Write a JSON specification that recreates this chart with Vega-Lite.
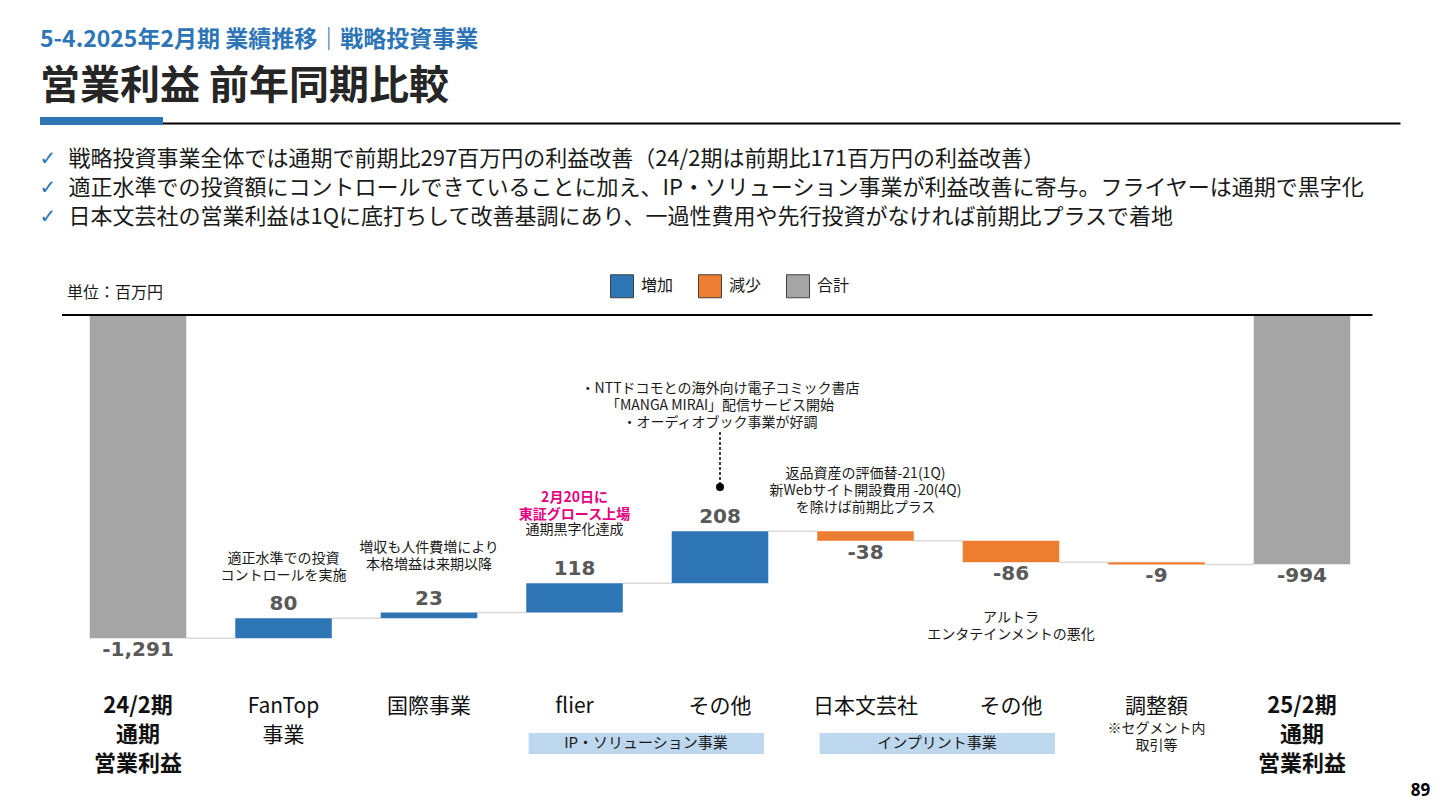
{
  "$schema": "https://vega.github.io/schema/vega-lite/v6.json",
  "width": 1360,
  "height": 365,
  "autosize": {"type": "none"},
  "padding": {"left": 40, "top": 316, "right": 40, "bottom": 129},
  "background": "white",
  "config": {"view": {"stroke": null}, "font": "Noto Sans CJK JP"},
  "title": {
    "text": "5-4.2025年2月期 業績推移｜戦略投資事業",
    "subtitle": "営業利益 前年同期比較",
    "anchor": "start",
    "frame": "group",
    "offset": 10,
    "color": "#2E75B6",
    "font": "Noto Sans CJK JP",
    "fontSize": 23,
    "fontWeight": "bold",
    "subtitleColor": "#262626",
    "subtitleFont": "Noto Sans CJK JP",
    "subtitleFontSize": 40,
    "subtitleFontWeight": "bold",
    "subtitlePadding": 15
  },
  "datasets": {
    "bars": [
      {"category": "24/2期|通期|営業利益", "kind": "合計", "value": -1291, "start": 0, "end": -1291, "label": "-1,291", "next": "FanTop|事業"},
      {"category": "FanTop|事業", "kind": "増加", "value": 80, "start": -1291, "end": -1211, "label": "80", "next": "国際事業"},
      {"category": "国際事業", "kind": "増加", "value": 23, "start": -1211, "end": -1188, "label": "23", "next": "flier"},
      {"category": "flier", "kind": "増加", "value": 118, "start": -1188, "end": -1070, "label": "118", "next": "その他"},
      {"category": "その他", "kind": "増加", "value": 208, "start": -1070, "end": -862, "label": "208", "next": "日本文芸社"},
      {"category": "日本文芸社", "kind": "減少", "value": -38, "start": -862, "end": -900, "label": "-38", "next": "その他#2"},
      {"category": "その他#2", "kind": "減少", "value": -86, "start": -900, "end": -986, "label": "-86", "next": "調整額"},
      {"category": "調整額", "kind": "減少", "value": -9, "start": -986, "end": -995, "label": "-9", "next": "25/2期|通期|営業利益"},
      {"category": "25/2期|通期|営業利益", "kind": "合計", "value": -994, "start": 0, "end": -994, "label": "-994", "next": null}
    ],
    "groups": [
      {"name": "IP・ソリューション事業", "from": "flier", "to": "その他"},
      {"name": "インプリント事業", "from": "日本文芸社", "to": "その他#2"}
    ]
  },
  "layer": [
    {
      "data": {"values": [{}]},
      "mark": {"type": "rect", "color": "#2E75B6"},
      "encoding": {
        "x": {"datum": "24/2期|通期|営業利益", "type": "nominal", "bandPosition": -0.5155, "axis": null},
        "x2": {"datum": "24/2期|通期|営業利益", "bandPosition": 0.759},
        "y": {"datum": 797, "type": "quantitative", "axis": null},
        "y2": {"datum": 765}
      }
    },
    {
      "data": {"values": [{}]},
      "mark": {"type": "rule", "color": "#000000", "strokeWidth": 2},
      "encoding": {
        "x": {"datum": "24/2期|通期|営業利益", "type": "nominal", "bandPosition": -0.2876, "axis": null},
        "x2": {"datum": "25/2期|通期|営業利益", "bandPosition": 1.23},
        "y": {"datum": 4, "type": "quantitative", "axis": null}
      }
    },
    {
      "data": {"name": "bars"},
      "transform": [{"filter": "datum.next != null"}],
      "mark": {"type": "rule", "color": "#D9D9D9", "strokeWidth": 1.5},
      "encoding": {
        "x": {
          "field": "category", "type": "nominal", "bandPosition": 1,
          "axis": {
            "orient": "top", "offset": 193, "labels": false, "ticks": false, "grid": false,
            "domain": true, "domainColor": "#000000", "domainWidth": 2,
            "title": [
              "戦略投資事業全体では通期で前期比297百万円の利益改善（24/2期は前期比171百万円の利益改善）",
              "適正水準での投資額にコントロールできていることに加え、IP・ソリューション事業が利益改善に寄与。フライヤーは通期で黒字化",
              "日本文芸社の営業利益は1Qに底打ちして改善基調にあり、一過性費用や先行投資がなければ前期比プラスで着地"
            ],
            "titleX": 28, "titleY": 35, "titleAlign": "left", "titleAnchor": "start",
            "titleBaseline": "middle", "titleAngle": 0, "titleFontSize": 22,
            "titleFontWeight": "normal", "titleFont": "Noto Sans CJK JP",
            "titleColor": "#1a1a1a", "titleLineHeight": 29, "titleLimit": 3000
          }
        },
        "x2": {"field": "next", "bandPosition": 0},
        "y": {"field": "end", "type": "quantitative", "axis": null}
      }
    },
    {
      "data": {"name": "bars"},
      "mark": {"type": "bar"},
      "encoding": {
        "x": {
          "field": "category", "type": "nominal",
          "scale": {
            "domain": ["24/2期|通期|営業利益", "FanTop|事業", "国際事業", "flier", "その他", "日本文芸社", "その他#2", "調整額", "25/2期|通期|営業利益"],
            "paddingInner": 0.3365, "paddingOuter": 0.342
          },
          "axis": {
            "orient": "bottom", "title": "89", "titleX": 1380, "titleY": 109,
            "titleAlign": "center", "titleBaseline": "middle", "titleFontSize": 17,
            "titleFontWeight": "bold", "titleFont": "Noto Sans", "titleColor": "#000000",
            "domain": false, "ticks": false, "grid": false,
            "labelPadding": 14, "labelBaseline": "top", "labelAlign": "center", "labelAngle": 0,
            "labelLineHeight": 29, "labelLimit": 400, "labelOverlap": false,
            "labelExpr": "split(replace(datum.label, '#2', ''), '|')",
            "labelFontSize": {"condition": {"test": "indexof(datum.value, '期') >= 0", "value": 22}, "value": 21},
            "labelFontWeight": {"condition": {"test": "indexof(datum.value, '期') >= 0", "value": "bold"}, "value": "normal"},
            "labelColor": "#111111", "labelFont": "Noto Sans CJK JP"
          }
        },
        "y": {
          "field": "start", "type": "quantitative",
          "scale": {"domain": [-1462, 0], "nice": false, "zero": false},
          "axis": null
        },
        "y2": {"field": "end"},
        "color": {
          "field": "kind", "type": "nominal",
          "scale": {"domain": ["増加", "減少", "合計"], "range": ["#2E75B6", "#ED7D31", "#A5A5A5"]},
          "legend": {
            "orient": "none", "legendX": 570, "legendY": -42, "direction": "horizontal",
            "title": null, "symbolType": "square", "symbolSize": 529,
            "symbolStrokeColor": "#404040", "symbolStrokeWidth": 1,
            "labelFontSize": 16, "labelOffset": 7, "columnPadding": 22,
            "labelFont": "Noto Sans CJK JP", "labelColor": "#1a1a1a"
          }
        }
      }
    },
    {
      "data": {"name": "bars"},
      "transform": [{"filter": "datum.kind == '増加'"}],
      "mark": {"type": "text", "font": "DejaVu Sans", "fontWeight": "bold", "fontSize": 20, "color": "#595959", "baseline": "middle", "dy": -14},
      "encoding": {
        "x": {"field": "category", "type": "nominal", "axis": null},
        "y": {"field": "end", "type": "quantitative", "axis": null},
        "text": {"field": "label"}
      }
    },
    {
      "data": {"name": "bars"},
      "transform": [{"filter": "datum.kind != '増加'"}],
      "mark": {"type": "text", "font": "DejaVu Sans", "fontWeight": "bold", "fontSize": 20, "color": "#595959", "baseline": "middle", "dy": 12},
      "encoding": {
        "x": {"field": "category", "type": "nominal", "axis": null},
        "y": {"field": "end", "type": "quantitative", "axis": null},
        "text": {"field": "label"}
      }
    },
    {
      "data": {"name": "groups"},
      "mark": {"type": "rect", "color": "#BDD7EE"},
      "encoding": {
        "x": {"field": "from", "type": "nominal", "bandPosition": 0.025, "axis": null},
        "x2": {"field": "to", "bandPosition": 0.955},
        "y": {"datum": -1670, "type": "quantitative", "axis": null},
        "y2": {"datum": -1754}
      }
    },
    {
      "data": {"name": "groups"},
      "mark": {"type": "text", "fontSize": 15, "color": "#1a1a1a", "baseline": "middle"},
      "encoding": {
        "x": {"field": "from", "type": "nominal", "bandPosition": 1.24, "axis": null},
        "y": {"datum": -1712, "type": "quantitative", "axis": null},
        "text": {"field": "name"}
      }
    },
    {
      "data": {"values": [{"lines": ["✓", "✓", "✓"]}]},
      "mark": {"type": "text", "font": "DejaVu Sans", "fontSize": 20, "fontWeight": "bold", "lineHeight": 29, "color": "#2E75B6", "baseline": "middle"},
      "encoding": {
        "x": {"datum": "24/2期|通期|営業利益", "type": "nominal", "bandPosition": -0.433, "axis": null},
        "y": {"datum": 627, "type": "quantitative", "axis": null},
        "text": {"field": "lines"}
      }
    },
    {
      "data": {"values": [{"lines": ["※セグメント内", "取引等"]}]},
      "mark": {"type": "text", "fontSize": 14, "lineHeight": 17, "color": "#1a1a1a", "baseline": "middle"},
      "encoding": {
        "x": {"datum": "調整額", "type": "nominal", "axis": null},
        "y": {"datum": -1656, "type": "quantitative", "axis": null},
        "text": {"field": "lines"}
      }
    },
    {
      "data": {"values": [{"lines": ["適正水準での投資", "コントロールを実施"]}]},
      "mark": {"type": "text", "fontSize": 14, "lineHeight": 17, "color": "#1a1a1a", "baseline": "middle"},
      "encoding": {
        "x": {"datum": "FanTop|事業", "type": "nominal", "axis": null},
        "y": {"datum": -975, "type": "quantitative", "axis": null},
        "text": {"field": "lines"}
      }
    },
    {
      "data": {"values": [{"lines": ["増収も人件費増により", "本格増益は来期以降"]}]},
      "mark": {"type": "text", "fontSize": 14, "lineHeight": 17, "color": "#1a1a1a", "baseline": "middle"},
      "encoding": {
        "x": {"datum": "国際事業", "type": "nominal", "axis": null},
        "y": {"datum": -931, "type": "quantitative", "axis": null},
        "text": {"field": "lines"}
      }
    },
    {
      "data": {"values": [{"lines": ["2月20日に", "東証グロース上場"]}]},
      "mark": {"type": "text", "fontSize": 14, "lineHeight": 17, "fontWeight": "bold", "color": "#E4007F", "baseline": "middle"},
      "encoding": {
        "x": {"datum": "flier", "type": "nominal", "axis": null},
        "y": {"datum": -727, "type": "quantitative", "axis": null},
        "text": {"field": "lines"}
      }
    },
    {
      "data": {"values": [{"lines": "通期黒字化達成"}]},
      "mark": {"type": "text", "fontSize": 14, "color": "#1a1a1a", "baseline": "middle"},
      "encoding": {
        "x": {"datum": "flier", "type": "nominal", "axis": null},
        "y": {"datum": -857, "type": "quantitative", "axis": null},
        "text": {"field": "lines"}
      }
    },
    {
      "data": {"values": [{"lines": ["・NTTドコモとの海外向け電子コミック書店", "「MANGA MIRAI」配信サービス開始", "・オーディオブック事業が好調"]}]},
      "mark": {"type": "text", "fontSize": 14, "lineHeight": 17, "color": "#1a1a1a", "baseline": "middle"},
      "encoding": {
        "x": {"datum": "その他", "type": "nominal", "axis": null},
        "y": {"datum": -294, "type": "quantitative", "axis": null},
        "text": {"field": "lines"}
      }
    },
    {
      "data": {"values": [{}]},
      "mark": {"type": "rule", "color": "#000000", "strokeWidth": 1.5, "strokeDash": [3, 2]},
      "encoding": {
        "x": {"datum": "その他", "type": "nominal", "axis": null},
        "y": {"datum": -465, "type": "quantitative", "axis": null},
        "y2": {"datum": -669}
      }
    },
    {
      "data": {"values": [{}]},
      "mark": {"type": "point", "filled": true, "color": "#000000", "opacity": 1, "size": 64},
      "encoding": {
        "x": {"datum": "その他", "type": "nominal", "axis": null},
        "y": {"datum": -685, "type": "quantitative", "axis": null}
      }
    },
    {
      "data": {"values": [{"lines": ["返品資産の評価替-21(1Q)", "新Webサイト開設費用 -20(4Q)", "を除けば前期比プラス"]}]},
      "mark": {"type": "text", "fontSize": 14, "lineHeight": 17, "color": "#1a1a1a", "baseline": "middle"},
      "encoding": {
        "x": {"datum": "日本文芸社", "type": "nominal", "axis": null},
        "y": {"datum": -634, "type": "quantitative", "axis": null},
        "text": {"field": "lines"}
      }
    },
    {
      "data": {"values": [{"lines": ["アルトラ", "エンタテインメントの悪化"]}]},
      "mark": {"type": "text", "fontSize": 14, "lineHeight": 17, "color": "#1a1a1a", "baseline": "middle"},
      "encoding": {
        "x": {"datum": "その他#2", "type": "nominal", "axis": null},
        "y": {"datum": -1211, "type": "quantitative", "axis": null},
        "text": {"field": "lines"}
      }
    },
    {
      "data": {"values": [{"lines": "単位：百万円"}]},
      "mark": {"type": "text", "fontSize": 16, "color": "#1a1a1a", "baseline": "middle", "align": "left"},
      "encoding": {
        "x": {"datum": "24/2期|通期|営業利益", "type": "nominal", "bandPosition": -0.236, "axis": null},
        "y": {"datum": 92, "type": "quantitative", "axis": null},
        "text": {"field": "lines"}
      }
    }
  ]
}
